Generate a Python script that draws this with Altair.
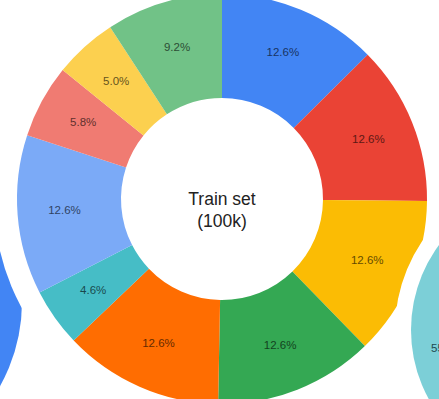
import altair as alt
import pandas as pd

# Main donut (clockwise from 12 o'clock)
categories = ["A", "B", "C", "D", "E", "F", "G", "H", "I", "J"]
values = [12.6, 12.6, 12.6, 12.6, 12.6, 4.6, 12.6, 5.8, 5.0, 9.2]
colors = ["#4285F4", "#EA4335", "#FBBC04", "#34A853", "#FF6D01",
          "#46BDC6", "#7BAAF7", "#F07B72", "#FCD04F", "#71C287"]
center_lines = ["Train set", "(100k)"]

# Neighbouring donuts, only partly visible
side_labels = ["55.0%"]

df = pd.DataFrame({
    "cat": categories,
    "value": values,
    "idx": list(range(len(values))),
    "label": [f"{v:.1f}%" for v in values],
})

CX, CY = 222, 199
R_IN, R_OUT = 101, 205

base = alt.Chart(df).encode(
    theta=alt.Theta("value:Q", stack=True),
    order=alt.Order("idx:Q"),
)

full = alt.Chart(pd.DataFrame({"a": [0]}))

# left (blue) neighbour
left_blue = full.mark_arc(outerRadius=172, innerRadius=0, color="#4285F4").encode(
    x=alt.value(-150), y=alt.value(302),
    theta=alt.value(0), theta2=alt.value(6.2832))

# white ring around the main donut
main_ring = full.mark_arc(outerRadius=228, innerRadius=0, color="white").encode(
    x=alt.value(CX), y=alt.value(CY),
    theta=alt.value(0), theta2=alt.value(6.2832))

arcs = base.mark_arc(innerRadius=R_IN, outerRadius=R_OUT).encode(
    x=alt.value(CX), y=alt.value(CY),
    color=alt.Color("cat:N", scale=alt.Scale(domain=categories, range=colors), legend=None),
)

labels = base.mark_text(
    radius=158, fontSize=11.5, font="Liberation Sans", color="black", opacity=0.62
).encode(
    x=alt.value(CX), y=alt.value(CY),
    text="label:N",
)

center = full.mark_text(
    text=center_lines, fontSize=17.5, font="Liberation Sans", color="#222222",
    align="center", baseline="middle", lineHeight=22,
).encode(x=alt.value(CX), y=alt.value(CY + 1))

# right (teal) neighbour with its white ring
teal_ring = full.mark_arc(outerRadius=159, innerRadius=0, color="white").encode(
    x=alt.value(554), y=alt.value(330),
    theta=alt.value(0), theta2=alt.value(6.2832))
teal = full.mark_arc(outerRadius=143, innerRadius=0, color="#7CCFD7").encode(
    x=alt.value(554), y=alt.value(330),
    theta=alt.value(0), theta2=alt.value(6.2832))
teal_text = alt.Chart(pd.DataFrame({"t": side_labels})).mark_text(
    fontSize=11.5, font="Liberation Sans", color="#1f4a50", align="left", baseline="middle"
).encode(x=alt.value(431), y=alt.value(349), text="t:N")

chart = alt.layer(
    left_blue, main_ring, arcs, labels, center, teal_ring, teal, teal_text
).properties(
    width=439, height=399, autosize="none", padding=0, background="white"
).configure_view(stroke=None)

chart.save("out.html", embed_options={"renderer": "svg", "actions": False})
